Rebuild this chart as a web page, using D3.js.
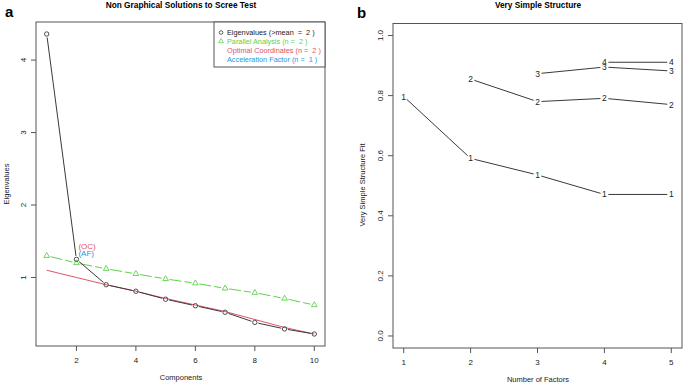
<!DOCTYPE html>
<html>
<head>
<meta charset="utf-8">
<script src="https://cdn.jsdelivr.net/npm/d3@7"></script>
<style>
  body { margin: 0; background: #fff; }
  svg { display: block; font-family: "Liberation Sans", Arial, sans-serif; }
  text { white-space: pre; }
</style>
</head>
<body>
<svg id="chart" width="685" height="384"></svg>
<script>
// panel a: scree test
const components = [1, 2, 3, 4, 5, 6, 7, 8, 9, 10]
const eigenvalues = [4.36, 1.25, 0.90, 0.81, 0.70, 0.61, 0.52, 0.38, 0.29, 0.22]
const parallel = [1.30, 1.20, 1.12, 1.05, 0.98, 0.92, 0.85, 0.79, 0.71, 0.62]
const optimal_coords = [1.10, 1.00, 0.90, 0.81, 0.71, 0.62, 0.53, 0.42, 0.31, 0.22]
const a_x_ticks = [2, 4, 6, 8, 10]
const a_y_ticks = [1, 2, 3, 4]
const legend_labels = ['Eigenvalues (>mean  =  2 )', 'Parallel Analysis (n =  2 )',
                       'Optimal Coordinates (n =  2 )', 'Acceleration Factor (n =  1 )']

// panel b: very simple structure
const factors = [1, 2, 3, 4, 5]
const vss_1 = [0.797, 0.591, 0.536, 0.471, 0.471]
const vss_2 = [null, 0.855, 0.780, 0.791, 0.770]
const vss_3 = [null, null, 0.873, 0.895, 0.882]
const vss_4 = [null, null, null, 0.911, 0.911]
const b_y_ticks = [0, 0.2, 0.4, 0.6, 0.8, 1.0]

const col = { black: '#3a3a3a', frame: '#555', green: '#61D04F', red: '#DF536B', blue: '#2297E6' }
const svg = d3.select('#chart')

// R style 4% padding
const pad = ([lo, hi]) => [lo - (hi - lo) * 0.04, hi + (hi - lo) * 0.04]

// line with gaps round each point, like R type = "b"
const gapped = (g, pts, gap, color, dash) => {
    for (let i = 0; i < pts.length - 1; i++) {
        const [x1, y1] = pts[i], [x2, y2] = pts[i + 1]
        const len = Math.hypot(x2 - x1, y2 - y1)
        if (len <= 2 * gap) continue
        const ux = (x2 - x1) / len, uy = (y2 - y1) / len
        g.append('line')
            .attr('x1', x1 + ux * gap).attr('y1', y1 + uy * gap)
            .attr('x2', x2 - ux * gap).attr('y2', y2 - uy * gap)
            .attr('stroke', color).attr('stroke-width', 1)
            .attr('stroke-dasharray', dash || null)
    }
}

const draw_frame = (g, x, y, xticks, yticks, yfmt) => {
    const [x0, x1] = x.range(), [y0, y1] = y.range()
    g.append('rect')
        .attr('x', x0).attr('y', y1).attr('width', x1 - x0).attr('height', y0 - y1)
        .attr('fill', 'none').attr('stroke', col.frame).attr('stroke-width', 1)
    xticks.forEach(t => {
        g.append('line').attr('x1', x(t)).attr('x2', x(t)).attr('y1', y0).attr('y2', y0 + 5)
            .attr('stroke', col.frame)
        g.append('text').attr('x', x(t)).attr('y', y0 + 17)
            .attr('text-anchor', 'middle').attr('font-size', 8).attr('fill', '#222').text(t)
    })
    yticks.forEach(t => {
        g.append('line').attr('x1', x0 - 5).attr('x2', x0).attr('y1', y(t)).attr('y2', y(t))
            .attr('stroke', col.frame)
        g.append('text')
            .attr('transform', `translate(${x0 - 10},${y(t)}) rotate(-90)`)
            .attr('text-anchor', 'middle').attr('font-size', 8).attr('fill', '#222').text(yfmt(t))
    })
}

// ---------- panel a ----------
{
    const x = d3.scaleLinear().domain(pad(d3.extent(components))).range([36, 325])
    const y = d3.scaleLinear().domain(pad(d3.extent(eigenvalues))).range([346, 22])
    const g = svg.append('g')

    draw_frame(g, x, y, a_x_ticks, a_y_ticks, d => d)

    // optimal coordinates line
    g.append('path')
        .datum(components.map((c, i) => [x(c), y(optimal_coords[i])]))
        .attr('fill', 'none').attr('stroke', col.red).attr('stroke-width', 1)
        .attr('d', d3.line())

    // parallel analysis
    const pa = components.map((c, i) => [x(c), y(parallel[i])])
    gapped(g, pa, 4, col.green, '12,3')
    const tri = d3.symbol(d3.symbolTriangle, 14)
    g.selectAll('.tri').data(pa).join('path')
        .attr('transform', d => `translate(${d[0]},${d[1]})`)
        .attr('d', tri).attr('fill', 'none').attr('stroke', col.green).attr('stroke-width', 0.9)

    // eigenvalues
    const ev = components.map((c, i) => [x(c), y(eigenvalues[i])])
    gapped(g, ev, 3.5, col.black)
    g.selectAll('.pt').data(ev).join('circle')
        .attr('cx', d => d[0]).attr('cy', d => d[1]).attr('r', 2.2)
        .attr('fill', 'none').attr('stroke', col.black).attr('stroke-width', 0.9)

    g.append('text').attr('x', x(2) + 2).attr('y', y(eigenvalues[1]) - 10.5)
        .attr('font-size', 8).attr('fill', col.red).text('(OC)')
    g.append('text').attr('x', x(2) + 2).attr('y', y(eigenvalues[1]) - 3)
        .attr('font-size', 8).attr('fill', col.blue).text('(AF)')

    // legend
    g.append('rect').attr('x', 214).attr('y', 22).attr('width', 111).attr('height', 45)
        .attr('fill', '#fff').attr('stroke', col.frame)
    const leg_cols = ['#222', col.green, col.red, col.blue]
    legend_labels.forEach((lab, i) => {
        const ly = 32.5 + i * 8.8
        if (i === 0) {
            g.append('circle').attr('cx', 221).attr('cy', ly).attr('r', 1.8)
                .attr('fill', 'none').attr('stroke', col.black).attr('stroke-width', 0.8)
        } else if (i === 1) {
            g.append('path').attr('transform', `translate(221,${ly})`)
                .attr('d', d3.symbol(d3.symbolTriangle, 10)).attr('fill', 'none')
                .attr('stroke', col.green).attr('stroke-width', 0.8)
        }
        g.append('text').attr('x', 227).attr('y', ly + 2.7)
            .attr('font-size', 7.3).attr('fill', leg_cols[i]).text(lab)
    })

    svg.append('text').attr('x', 181).attr('y', 8).attr('text-anchor', 'middle')
        .attr('font-size', 8.3).attr('font-weight', 'bold').text('Non Graphical Solutions to Scree Test')
    svg.append('text').attr('x', 181).attr('y', 380).attr('text-anchor', 'middle')
        .attr('font-size', 7.5).attr('fill', '#222').text('Components')
    svg.append('text').attr('transform', 'translate(9,184) rotate(-90)').attr('text-anchor', 'middle')
        .attr('font-size', 7.5).attr('fill', '#222').text('Eigenvalues')
    svg.append('text').attr('x', 5).attr('y', 17)
        .attr('font-size', 15).attr('font-weight', 'bold').text('a')
}

// ---------- panel b ----------
{
    const x = d3.scaleLinear().domain(pad(d3.extent(factors))).range([393, 682])
    const y = d3.scaleLinear().domain(pad([0, 1])).range([348, 23.5])
    const g = svg.append('g')

    draw_frame(g, x, y, factors, b_y_ticks, d3.format('.1f'))

    const series = [vss_1, vss_2, vss_3, vss_4]
    series.forEach((s, k) => {
        const pts = factors.map((f, i) => [f, s[i]]).filter(d => d[1] != null)
            .map(d => [x(d[0]), y(d[1])])
        gapped(g, pts, 4, col.black)
        g.selectAll(null).data(pts).join('text')
            .attr('x', d => d[0]).attr('y', d => d[1] + 3)
            .attr('text-anchor', 'middle').attr('font-size', 8.5).attr('fill', '#222')
            .text(k + 1)
    })

    svg.append('text').attr('x', 538).attr('y', 8).attr('text-anchor', 'middle')
        .attr('font-size', 8.3).attr('font-weight', 'bold').text('Very Simple Structure')
    svg.append('text').attr('x', 538).attr('y', 382).attr('text-anchor', 'middle')
        .attr('font-size', 7.5).attr('fill', '#222').text('Number of Factors')
    svg.append('text').attr('transform', 'translate(365,185) rotate(-90)').attr('text-anchor', 'middle')
        .attr('font-size', 7.5).attr('fill', '#222').text('Very Simple Structure Fit')
    svg.append('text').attr('x', 357).attr('y', 18)
        .attr('font-size', 15).attr('font-weight', 'bold').text('b')
}
</script>
</body>
</html>
